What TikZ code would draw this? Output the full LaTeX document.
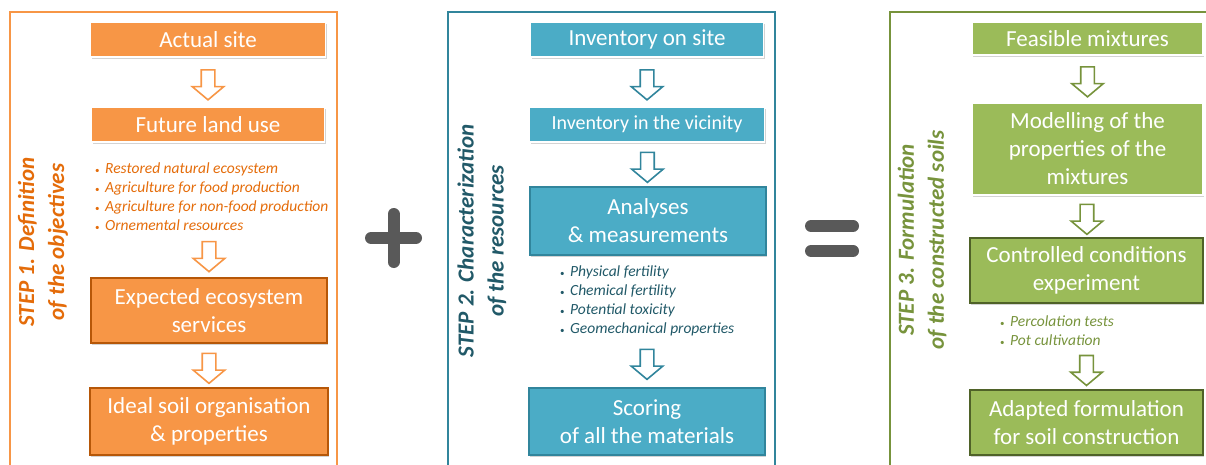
\documentclass[tikz,border=0pt]{standalone}
\usepackage{fontspec}
\setmainfont{Carlito}
\usetikzlibrary{positioning, shapes, shapes.arrows, shadows}
\definecolor{stepone}{HTML}{F79646}
\definecolor{steponedark}{HTML}{B65708}
\definecolor{steponetext}{HTML}{E46C0A}
\definecolor{steptwo}{HTML}{4BACC6}
\definecolor{steptwodark}{HTML}{31859C}
\definecolor{steptwotext}{HTML}{215968}
\definecolor{stepthree}{HTML}{9BBB59}
\definecolor{stepthreedark}{HTML}{4F6228}
\definecolor{stepthreetext}{HTML}{77933C}
\definecolor{signgray}{HTML}{595959}
\newcommand{\itembul}{{\upshape\fontsize{9}{9}\selectfont\textbullet}\hspace{5.5pt}}
\tikzset{
    softbox/.style = {rectangle, draw=white, line width=1.5pt, fill=#1, text=white,
                        align=center, inner sep=0pt, font=\fontsize{23}{28}\selectfont,
                        drop shadow={shadow xshift=1.2pt, shadow yshift=-1.6pt, opacity=0.35}},
    hardbox/.style 2 args = {softbox=#1, draw=#2},
    notes/.style = {align=left, inner sep=0pt, text=#1, anchor=north west,
                        font=\fontsize{15.5}{18.7}\selectfont\itshape},
    steplabel/.style = {rotate=90, align=center, inner sep=0pt, text=#1,
                        font=\fontsize{23}{30}\selectfont\bfseries\itshape},
    harrow/.style = {single arrow, draw=#1, fill=white, line width=1.6pt,
                        shape border rotate=270, minimum height=30pt, minimum width=30pt,
                        single arrow head extend=9pt, single arrow tip angle=100, inner sep=6pt},
    panel/.style = {draw=#1, line width=2pt}
}
\begin{document}
\begin{tikzpicture}[x=1pt, y=-1pt]
	\useasboundingbox (0,0) rectangle (1206,464);
	% step 1
	\draw [panel=stepone] (10,470) |- (337,12) -- (337,470);
	\node (title1) [steplabel=steponetext] at (43,242) {STEP 1. Definition\\of the objectives};
	\node (site) [softbox=stepone, minimum width=235pt, minimum height=35pt] at (208,39.5) {Actual site};
	\node (land) [softbox=stepone, minimum width=233pt, minimum height=35pt] at (208,124.5) {Future land use};
	\node (uses) [notes=steponetext] at (95,163) {\itembul Restored natural ecosystem\\\itembul Agriculture for food production\\\itembul Agriculture for non-food production\\\itembul Ornemental resources};
	\node (servic) [hardbox={stepone}{steponedark}, minimum width=236pt, minimum height=65pt] at (209,310.5) {Expected ecosystem\\services};
	\node (ideal) [hardbox={stepone}{steponedark}, minimum width=238pt, minimum height=67pt] at (209,421.5) {Ideal soil organisation\\\& properties};
	\path (site) to node[harrow=stepone] {} (land);
	\path (uses.south -| servic.north) to node[harrow=stepone] {} (servic.north);
	\path (servic) to node[harrow=stepone] {} (ideal);
	% plus
	\draw [signgray, line width=12pt, line cap=round] (371,238) -- (416,238) (393.5,214) -- (393.5,262);
	% step 2
	\draw [panel=steptwodark] (448,470) |- (775,12) -- (775,470);
	\node (title2) [steplabel=steptwotext] at (482,241) {STEP 2. Characterization\\of the resources};
	\node (onsite) [softbox=steptwo, minimum width=233pt, minimum height=35pt] at (647,39.5) {Inventory on site};
	\node (vicin) [softbox=steptwo, minimum width=235pt, minimum height=35pt, font=\fontsize{20}{24}\selectfont] at (647,124.5) {Inventory in the vicinity};
	\node (analys) [hardbox={steptwo}{steptwodark}, minimum width=236pt, minimum height=68pt] at (648,221) {Analyses\\\& measurements};
	\node (props) [notes=steptwotext] at (560,266) {\itembul Physical fertility\\\itembul Chemical fertility\\\itembul Potential toxicity\\\itembul Geomechanical properties};
	\node (scoring) [hardbox={steptwo}{steptwodark}, minimum width=236pt, minimum height=67pt] at (647,421.5) {Scoring\\of all the materials};
	\path (onsite) to node[harrow=steptwodark] {} (vicin);
	\path (vicin) to node[harrow=steptwodark] {} (analys);
	\path (props.south -| scoring.north) to node[harrow=steptwodark] {} (scoring.north);
	% equals
	\draw [signgray, line width=12pt, line cap=round] (811,226) -- (853,226) (811,251) -- (853,251);
	% step 3
	\draw [panel=stepthreetext] (890,470) |- (1210,12);
	\node (title3) [steplabel=stepthreetext] at (922,240) {STEP 3. Formulation\\of the constructed soils};
	\node (mixes) [softbox=stepthree, minimum width=231pt, minimum height=33pt] at (1087.5,38.5) {Feasible mixtures};
	\node (model) [softbox=stepthree, minimum width=231pt, minimum height=92pt] at (1087.5,149) {Modelling of the\\properties of the\\mixtures};
	\node (expe) [hardbox={stepthree}{stepthreedark}, minimum width=233pt, minimum height=65pt] at (1086.5,270.5) {Controlled conditions\\experiment};
	\node (tests) [notes=stepthreetext] at (1000,316) {\itembul Percolation tests\\\itembul Pot cultivation};
	\node (formul) [hardbox={stepthree}{stepthreedark}, minimum width=233pt, minimum height=65pt] at (1086.5,422.5) {Adapted formulation\\for soil construction};
	\path (mixes) to node[harrow=stepthreetext] {} (model);
	\path (model) to node[harrow=stepthreetext] {} (expe);
	\path (tests.south -| formul.north) to node[harrow=stepthreetext] {} (formul.north);
\end{tikzpicture}
\end{document}
